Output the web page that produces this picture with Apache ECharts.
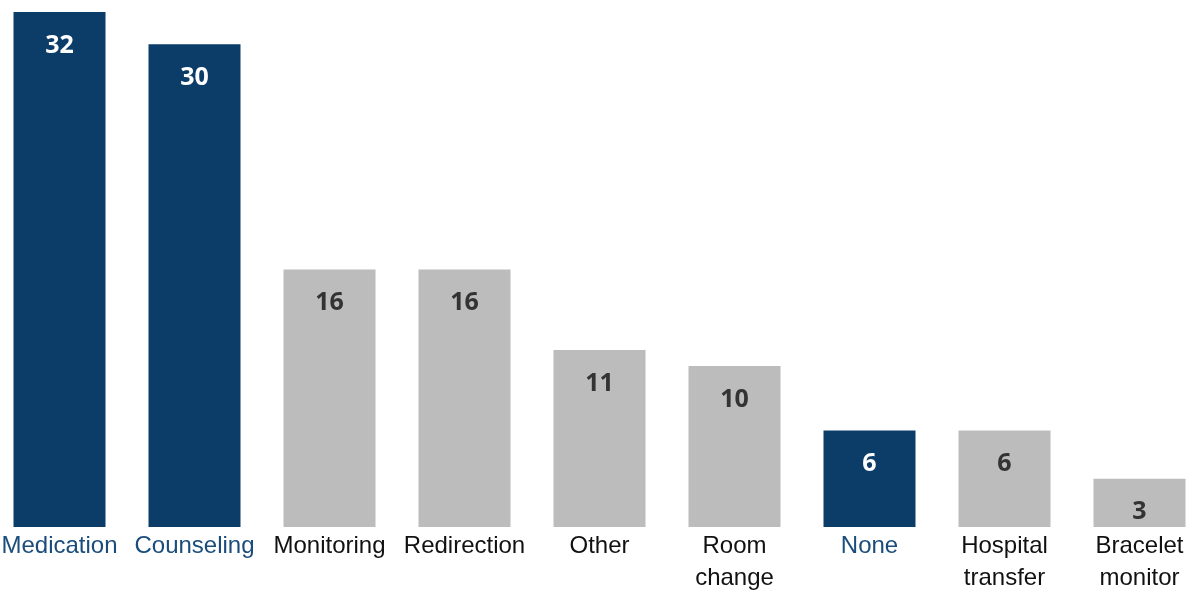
<!DOCTYPE html>
<html>
<head>
<meta charset="utf-8">
<script src="https://cdn.jsdelivr.net/npm/echarts@6/dist/echarts.min.js"></script>
<style>
  html, body { margin: 0; padding: 0; background: #fff; overflow: hidden; }
  /* plot is a bit wider than the window, first band starts left of the edge */
  #chart { width: 1215px; height: 595px; margin-left: -8px; }
</style>
</head>
<body>
<div id="chart"></div>
<script>
// categories and values
const categories = ["Medication", "Counseling", "Monitoring", "Redirection", "Other", "Room\nchange", "None", "Hospital\ntransfer", "Bracelet\nmonitor"];
const values = [32, 30, 16, 16, 11, 10, 6, 6, 3];
// which bars are highlighted in dark blue
const highlighted = [true, true, false, false, false, false, true, false, false];

const BLUE = "#0b3d68";
const GREY = "#bcbcbc";

let chart = echarts.init(document.getElementById("chart"));

let option = {
  animation: false,
  grid: { left: 0, right: 0, top: 12, bottom: 68 },
  xAxis: {
    type: "category",
    data: categories.map((c, i) => ({
      value: c,
      textStyle: { color: highlighted[i] ? "#1a4c7c" : "#111" },
    })),
    axisLine: { show: false },
    axisTick: { show: false },
    axisLabel: {
      interval: 0,
      margin: 3,
      fontFamily: "Liberation Sans, Arial, sans-serif",
      fontSize: 24,
      lineHeight: 32,
    },
  },
  yAxis: {
    type: "value",
    min: 0,
    max: 32,
    show: false,
  },
  series: [
    {
      type: "bar",
      barWidth: 92,
      data: values.map((v, i) => ({
        value: v,
        itemStyle: { color: highlighted[i] ? BLUE : GREY },
        label: { color: highlighted[i] ? "#fff" : "#333" },
      })),
      label: {
        show: true,
        position: "insideTop",
        distance: 21,
        fontFamily: "Open Sans, sans-serif",
        fontWeight: "bold",
        fontSize: 25,
      },
    },
  ],
};

chart.setOption(option);
window.addEventListener("resize", () => chart.resize());
</script>
</body>
</html>
